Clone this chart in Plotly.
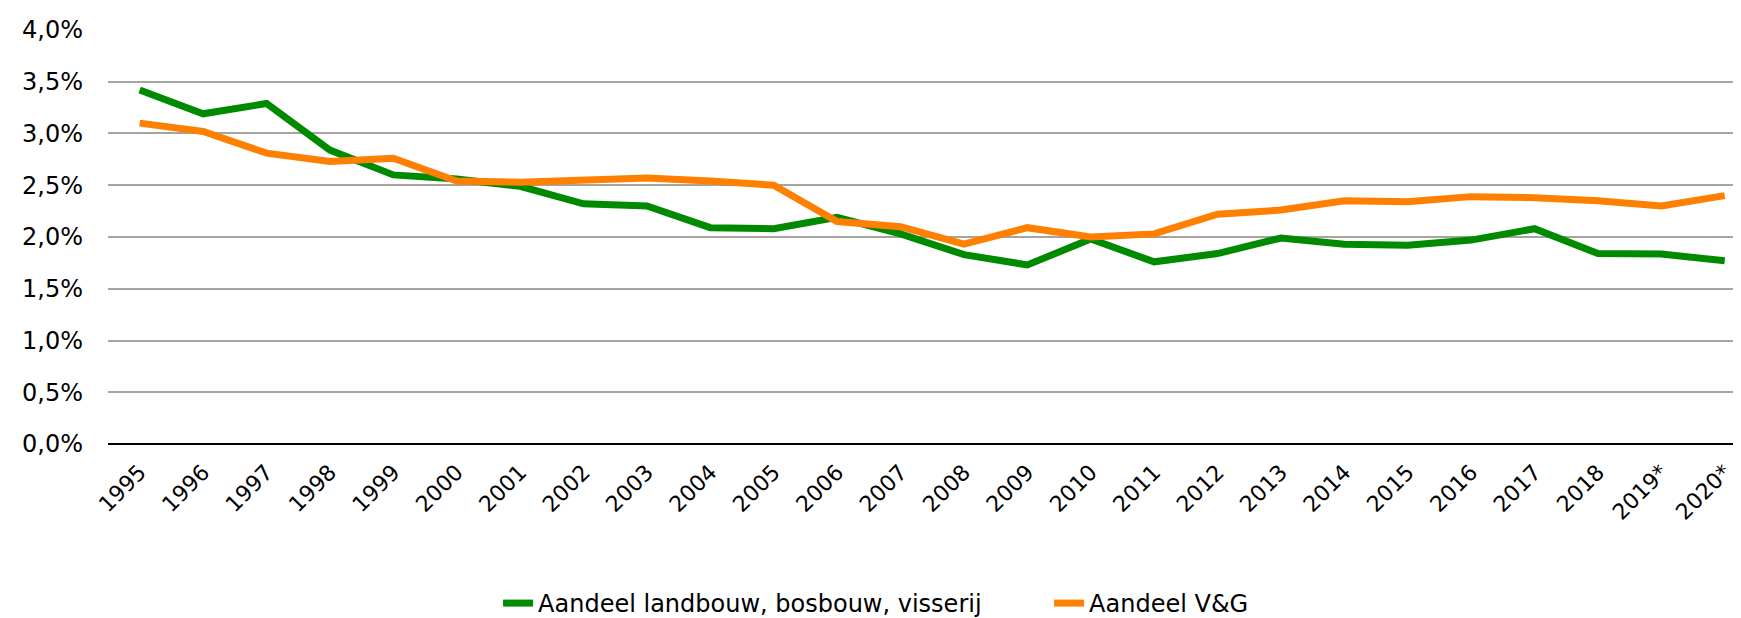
import plotly.graph_objects as go

years = ["1995", "1996", "1997", "1998", "1999", "2000", "2001", "2002", "2003",
         "2004", "2005", "2006", "2007", "2008", "2009", "2010", "2011", "2012",
         "2013", "2014", "2015", "2016", "2017", "2018", "2019*", "2020*"]

aandeel_lbv = [3.42, 3.19, 3.29, 2.84, 2.60, 2.56, 2.49, 2.32, 2.30,
               2.09, 2.08, 2.19, 2.03, 1.83, 1.73, 1.98, 1.76, 1.84,
               1.99, 1.93, 1.92, 1.97, 2.08, 1.84, 1.835, 1.77]

aandeel_vg = [3.10, 3.02, 2.81, 2.73, 2.76, 2.54, 2.53, 2.55, 2.57,
              2.54, 2.50, 2.15, 2.10, 1.93, 2.09, 2.00, 2.03, 2.22,
              2.26, 2.35, 2.34, 2.39, 2.38, 2.35, 2.30, 2.40]

y_ticks = [0, 0.5, 1.0, 1.5, 2.0, 2.5, 3.0, 3.5, 4.0]
y_tick_labels = ["0,0%", "0,5%", "1,0%", "1,5%", "2,0%", "2,5%", "3,0%", "3,5%", "4,0%"]

FONT = "DejaVu Sans, Verdana, sans-serif"

fig = go.Figure()
fig.add_trace(go.Scatter(
    x=years, y=aandeel_lbv, mode="lines",
    name="Aandeel landbouw, bosbouw, visserij",
    line=dict(color="#008A00", width=7),
))
fig.add_trace(go.Scatter(
    x=years, y=aandeel_vg, mode="lines",
    name="Aandeel V&G",
    line=dict(color="#FF7F00", width=7),
))

fig.update_layout(
    width=1741, height=618,
    margin=dict(l=100, r=0, t=21, b=175, pad=0),
    plot_bgcolor="white", paper_bgcolor="white",
    font=dict(family=FONT, size=24, color="#000000"),
    showlegend=True,
    legend=dict(
        orientation="h", x=0.2377, xanchor="left", y=-0.386, yanchor="middle",
        font=dict(family=FONT, size=24, color="#000000"),
        entrywidth=506, entrywidthmode="pixels",
        bgcolor="rgba(0,0,0,0)",
    ),
    xaxis=dict(
        type="category", range=[-0.5, 25.383],
        tickangle=-45, showgrid=False, ticks="",
        ticklabelstandoff=10,
        tickfont=dict(family=FONT, size=22, color="#000000"),
        showline=False, zeroline=False,
    ),
    yaxis=dict(
        range=[0, 4.0095], tickvals=y_ticks, ticktext=y_tick_labels,
        showgrid=True, gridcolor="#A8A39E", gridwidth=1.5,
        zeroline=True, zerolinecolor="#000000", zerolinewidth=2.2,
        showline=False, ticks="", ticklabelstandoff=24,
        tickfont=dict(family=FONT, size=24, color="#000000"),
    ),
)

fig.write_html("out.html")
